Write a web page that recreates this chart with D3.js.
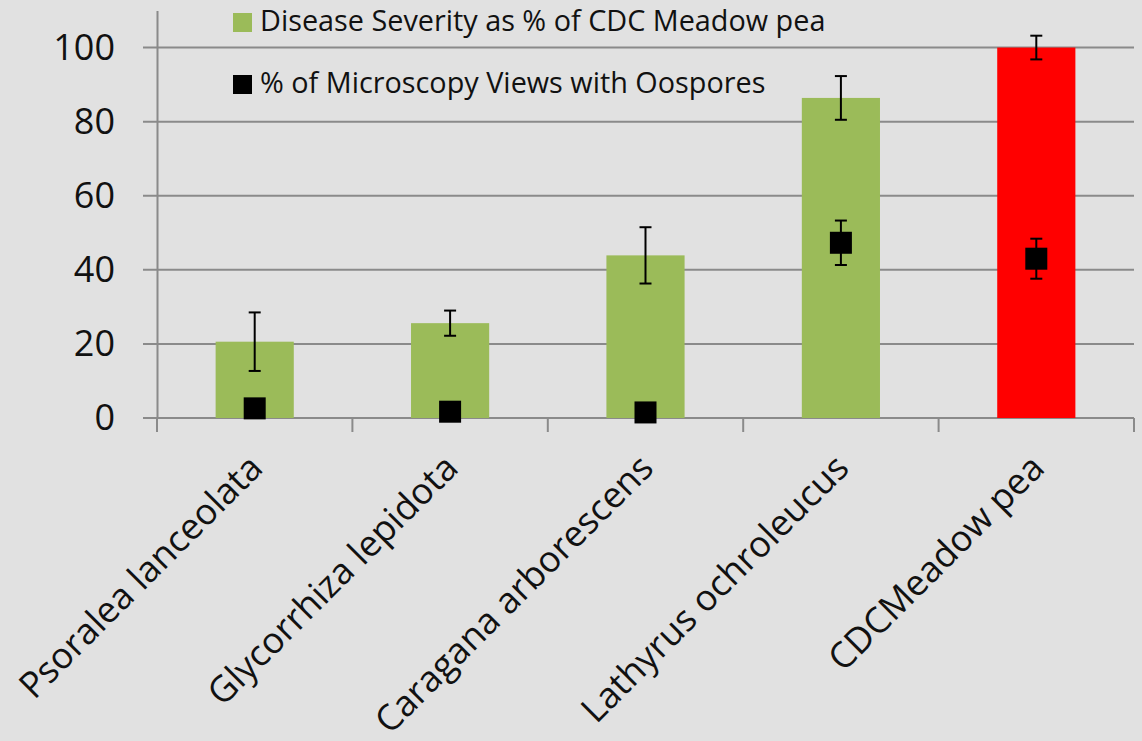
<!DOCTYPE html>
<html>
<head>
<meta charset="utf-8">
<script src="https://cdn.jsdelivr.net/npm/d3@7"></script>
<style>
  html, body { margin: 0; padding: 0; background: #e1e1e1; }
  svg { display: block; }
</style>
</head>
<body>
<div id="chart"></div>
<script>
const species = ["Psoralea lanceolata", "Glycorrhiza lepidota", "Caragana arborescens", "Lathyrus ochroleucus", "CDCMeadow pea"];
const severity = [20.6, 25.6, 43.9, 86.4, 100];
const severityErr = [7.9, 3.4, 7.6, 5.9, 3.2];
const oospores = [2.6, 1.7, 1.5, 47.3, 43.0];
const oosporesErr = [0, 0, 0, 6.0, 5.4];
const barColors = ["#9bbb59", "#9bbb59", "#9bbb59", "#9bbb59", "#ff0000"];
const yTicks = [0, 20, 40, 60, 80, 100];
const legendLabels = ["Disease Severity as % of CDC Meadow pea", "% of Microscopy Views with Oospores"];

const W = 1142, H = 741;
const plotLeft = 157, plotRight = 1134, plotBottom = 418, plotTop = 10.5;

const svg = d3.select("#chart").append("svg")
    .attr("width", W)
    .attr("height", H)
    .style("font-family", "'Open Sans', sans-serif");

svg.append("rect").attr("width", W).attr("height", H).attr("fill", "#e1e1e1");

const x = d3.scaleBand()
    .domain(species)
    .range([plotLeft, plotRight])
    .paddingInner(0.6)
    .paddingOuter(0.3);

const y = d3.scaleLinear()
    .domain([0, 110])
    .range([plotBottom, plotTop]);

// gridlines
svg.append("g")
    .selectAll("line")
    .data(yTicks)
    .join("line")
    .attr("x1", plotLeft - 14)
    .attr("x2", plotRight)
    .attr("y1", d => y(d))
    .attr("y2", d => y(d))
    .attr("stroke", "#8a8a8a")
    .attr("stroke-width", 2);

// y axis
const yAxis = svg.append("g")
    .attr("transform", `translate(${plotLeft},0)`)
    .call(d3.axisLeft(y).tickValues(yTicks).tickSize(0).tickPadding(42));
yAxis.select(".domain").attr("stroke", "#8a8a8a").attr("stroke-width", 2);
yAxis.selectAll("text")
    .attr("font-size", "36px")
    .attr("fill", "#111")
    .attr("font-family", "'Open Sans', sans-serif");

// x axis line and category ticks
svg.append("line")
    .attr("x1", plotLeft).attr("x2", plotRight)
    .attr("y1", y(0)).attr("y2", y(0))
    .attr("stroke", "#8a8a8a").attr("stroke-width", 2);
svg.append("g")
    .selectAll("line")
    .data(d3.range(species.length + 1))
    .join("line")
    .attr("x1", i => plotLeft + i * x.step())
    .attr("x2", i => plotLeft + i * x.step())
    .attr("y1", y(0))
    .attr("y2", y(0) + 14)
    .attr("stroke", "#8a8a8a")
    .attr("stroke-width", 2);

// bars
svg.append("g")
    .selectAll("rect")
    .data(species)
    .join("rect")
    .attr("x", d => x(d))
    .attr("width", x.bandwidth())
    .attr("y", (d, i) => y(severity[i]))
    .attr("height", (d, i) => y(0) - y(severity[i]))
    .attr("fill", (d, i) => barColors[i]);

function errorBars(vals, errs) {
    const g = svg.append("g").attr("stroke", "#000").attr("stroke-width", 2);
    species.forEach((s, i) => {
        if (!errs[i]) return;
        const cx = x(s) + x.bandwidth() / 2;
        const y1 = y(vals[i] + errs[i]), y2 = y(vals[i] - errs[i]);
        g.append("line").attr("x1", cx).attr("x2", cx).attr("y1", y1).attr("y2", y2);
        g.append("line").attr("x1", cx - 6).attr("x2", cx + 6).attr("y1", y1).attr("y2", y1);
        g.append("line").attr("x1", cx - 6).attr("x2", cx + 6).attr("y1", y2).attr("y2", y2);
    });
}

errorBars(severity, severityErr);
errorBars(oospores, oosporesErr);

// oospore squares
svg.append("g")
    .selectAll("rect")
    .data(species)
    .join("rect")
    .attr("x", d => x(d) + x.bandwidth() / 2 - 11)
    .attr("y", (d, i) => y(oospores[i]) - 11)
    .attr("width", 22)
    .attr("height", 22)
    .attr("fill", "#000");

// x labels, rotated
svg.append("g")
    .selectAll("text")
    .data(species)
    .join("text")
    .attr("transform", d => `translate(${x(d) + x.bandwidth() / 2 + 10},${y(0) + 52}) rotate(-45)`)
    .attr("text-anchor", "end")
    .attr("font-size", "36px")
    .attr("fill", "#111")
    .text(d => d);

// legend
const legend = svg.append("g");
legendLabels.forEach((lab, i) => {
    const ly = 13 + i * 62;
    legend.append("rect")
        .attr("x", 233).attr("y", ly)
        .attr("width", 19).attr("height", 19)
        .attr("fill", i === 0 ? "#9bbb59" : "#000");
    legend.append("text")
        .attr("x", 260).attr("y", ly + 18)
        .attr("font-size", "28.8px")
        .attr("fill", "#111")
        .text(lab);
});
</script>
</body>
</html>
